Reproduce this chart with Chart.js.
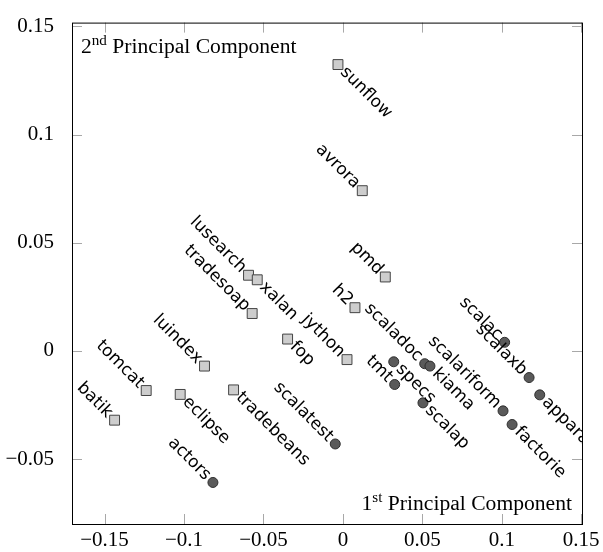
<!DOCTYPE html>
<html>
<head>
<meta charset="utf-8">
<script src="https://cdn.jsdelivr.net/npm/chart.js@4.4.1/dist/chart.umd.min.js"></script>
<style>
  html, body { margin: 0; padding: 0; background: #ffffff; }
</style>
</head>
<body>
<canvas id="grafico-pca" width="603" height="552"></canvas>
<script>
// benchmarks Java (quadrados)
const nomesJava = ['sunflow', 'avrora', 'pmd', 'h2', 'lusearch', 'xalan', 'tradesoap', 'fop', 'jython', 'luindex', 'tomcat', 'batik', 'eclipse', 'tradebeans'];
const xJava = [-0.0031, 0.0122, 0.0267, 0.0076, -0.0594, -0.0539, -0.0571, -0.0348, 0.0026, -0.0871, -0.1238, -0.1437, -0.1024, -0.0688];
const yJava = [0.1324, 0.0741, 0.0342, 0.02, 0.035, 0.0329, 0.0173, 0.0055, -0.004, -0.007, -0.0183, -0.032, -0.0201, -0.018];
const ladoJava = ['w', 'e', 'e', 'e', 'e', 'w', 'e', 'w', 'e', 'e', 'e', 'e', 'w', 'w'];

// benchmarks Scala (circulos)
const nomesScala = ['scalac', 'scalaxb', 'apparat', 'scalariform', 'factorie', 'scaladoc', 'kiama', 'specs', 'tmt', 'scalap', 'scalatest', 'actors'];
const xScala = [0.1018, 0.1172, 0.1239, 0.1008, 0.1065, 0.0515, 0.0548, 0.032, 0.0326, 0.0504, -0.0048, -0.0818];
const yScala = [0.004, -0.0123, -0.0203, -0.0277, -0.034, -0.0059, -0.007, -0.005, -0.0155, -0.024, -0.043, -0.0608];
const ladoScala = ['e', 'e', 'w', 'e', 'w', 'e', 'w', 'w', 'e', 'w', 'e', 'e'];

const ticksX = [-0.15, -0.1, -0.05, 0, 0.05, 0.1, 0.15];
const ticksY = [-0.05, 0, 0.05, 0.1, 0.15];

const rotulos = [
  { nomes: nomesJava, lados: ladoJava },
  { nomes: nomesScala, lados: ladoScala },
];

const FONTE_SERIF = '"Liberation Serif", "Times New Roman", serif';

function montarPontos(xs, ys) {
  return xs.map((x, i) => ({ x, y: ys[i] }));
}

function formatarTick(valor) {
  return valor < 0 ? '\u2212' + Math.abs(valor) : String(valor);
}

const pluginRotulos = {
  id: 'rotulos',
  afterDatasetsDraw(chart) {
    const { ctx, chartArea } = chart;
    ctx.save();
    ctx.beginPath();
    ctx.rect(chartArea.left, chartArea.top, chartArea.width, chartArea.height);
    ctx.clip();
    ctx.font = '17px "DejaVu Sans"';
    ctx.fillStyle = '#000000';
    ctx.textBaseline = 'middle';

    rotulos.forEach((grupo, d) => {
      chart.getDatasetMeta(d).data.forEach((ponto, i) => {
        const oeste = grupo.lados[i] === 'w';
        ctx.save();
        ctx.translate(ponto.x, ponto.y);
        ctx.rotate(Math.PI / 4);
        ctx.textAlign = oeste ? 'left' : 'right';
        ctx.fillText(grupo.nomes[i], oeste ? 7 : -7, 0);
        ctx.restore();
      });
    });
    ctx.restore();
  },
};

// texto com sobrescrito, esticado na horizontal para lembrar a fonte do LaTeX
function desenharTitulo(ctx, base, sobrescrito, resto, x, y, alinharDireita) {
  const estica = 1.08;
  const fonteNormal = `20px ${FONTE_SERIF}`;
  const fontePequena = `14px ${FONTE_SERIF}`;

  ctx.font = fonteNormal;
  const larguraBase = ctx.measureText(base).width;
  const larguraResto = ctx.measureText(resto).width;
  ctx.font = fontePequena;
  const larguraSobre = ctx.measureText(sobrescrito).width;
  const total = (larguraBase + larguraSobre + larguraResto) * estica;

  ctx.save();
  ctx.translate(alinharDireita ? x - total : x, y);
  ctx.scale(estica, 1);
  ctx.textAlign = 'left';
  ctx.textBaseline = 'alphabetic';

  let posX = 0;
  ctx.font = fonteNormal;
  ctx.fillText(base, posX, 0);
  posX += larguraBase;
  ctx.font = fontePequena;
  ctx.fillText(sobrescrito, posX, -8);
  posX += larguraSobre;
  ctx.font = fonteNormal;
  ctx.fillText(resto, posX, 0);
  ctx.restore();
}

const pluginMoldura = {
  id: 'moldura',
  afterDraw(chart) {
    const { ctx, chartArea: area, scales } = chart;
    ctx.save();

    // marcas dos ticks, para dentro, nos quatro lados
    ctx.strokeStyle = '#a8a8a8';
    ctx.lineWidth = 1;
    ctx.beginPath();
    scales.x.ticks.forEach((tick) => {
      const px = Math.round(scales.x.getPixelForValue(tick.value)) + 0.5;
      ctx.moveTo(px, area.bottom);
      ctx.lineTo(px, area.bottom - 10);
      ctx.moveTo(px, area.top);
      ctx.lineTo(px, area.top + 10);
    });
    scales.y.ticks.forEach((tick) => {
      const py = Math.round(scales.y.getPixelForValue(tick.value)) + 0.5;
      ctx.moveTo(area.left, py);
      ctx.lineTo(area.left + 10, py);
      ctx.moveTo(area.right, py);
      ctx.lineTo(area.right - 10, py);
    });
    ctx.stroke();

    ctx.strokeStyle = '#000000';
    ctx.strokeRect(area.left + 0.5, area.top + 0.5, area.width, area.height);

    ctx.fillStyle = '#000000';
    desenharTitulo(ctx, '2', 'nd', ' Principal Component', area.left + 9, area.top + 30, false);
    desenharTitulo(ctx, '1', 'st', ' Principal Component', area.right - 10, area.bottom - 14, true);
    ctx.restore();
  },
};

function criarGrafico() {
  const contexto = document.querySelector('#grafico-pca');

  return new Chart(contexto, {
    type: 'scatter',
    data: {
      datasets: [
        {
          label: 'Java',
          data: montarPontos(xJava, yJava),
          pointStyle: 'rect',
          pointRadius: 7,
          backgroundColor: '#cdcdcd',
          borderColor: '#444444',
          borderWidth: 1,
        },
        {
          label: 'Scala',
          data: montarPontos(xScala, yScala),
          pointStyle: 'circle',
          pointRadius: 5,
          backgroundColor: '#5a5a5a',
          borderColor: '#2e2e2e',
          borderWidth: 1,
        },
      ],
    },
    options: {
      responsive: false,
      animation: false,
      layout: {
        padding: { top: 14, right: 21, left: 0, bottom: 0 },
      },
      plugins: {
        legend: { display: false },
        tooltip: { enabled: false },
      },
      scales: {
        x: {
          type: 'linear',
          min: -0.1705,
          max: 0.1505,
          grid: { display: false },
          border: { display: false },
          afterBuildTicks: (escala) => {
            escala.ticks = ticksX.map((valor) => ({ value: valor }));
          },
          afterFit: (escala) => {
            escala.height = 28;
          },
          ticks: {
            autoSkip: false,
            maxRotation: 0,
            padding: -4,
            color: '#000000',
            font: { family: FONTE_SERIF, size: 21 },
            callback: (valor) => formatarTick(valor),
          },
        },
        y: {
          type: 'linear',
          min: -0.08,
          max: 0.1518,
          grid: { display: false },
          border: { display: false },
          afterBuildTicks: (escala) => {
            escala.ticks = ticksY.map((valor) => ({ value: valor }));
          },
          afterFit: (escala) => {
            escala.width = 72;
          },
          ticks: {
            autoSkip: false,
            padding: 10,
            color: '#000000',
            font: { family: FONTE_SERIF, size: 21 },
            callback: (valor) => formatarTick(valor),
          },
        },
      },
    },
    plugins: [pluginRotulos, pluginMoldura],
  });
}

criarGrafico();
</script>
</body>
</html>
